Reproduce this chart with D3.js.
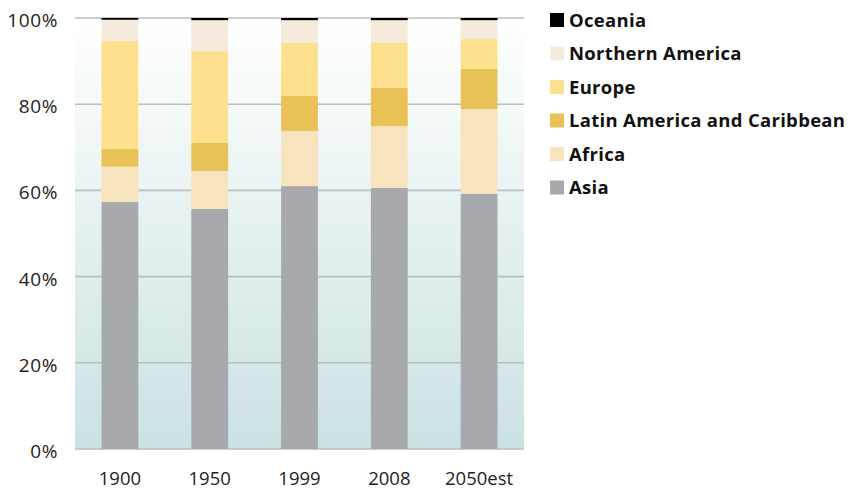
<!DOCTYPE html>
<html>
<head>
<meta charset="utf-8">
<script src="https://cdn.jsdelivr.net/npm/d3@7/dist/d3.min.js"></script>
<style>
html,body{margin:0;padding:0;background:#fff;}
svg{display:block;}
</style>
</head>
<body>
<svg id="chart" width="854" height="489"></svg>
<script>
const categories = ["1900", "1950", "1999", "2008", "2050est"];
const regions = ["Asia", "Africa", "Latin America and Caribbean", "Europe", "Northern America", "Oceania"];
const asia     = [57.3, 55.7, 61.0, 60.6, 59.2];
const africa   = [8.2, 8.8, 12.8, 14.3, 19.7];
const latin    = [4.1, 6.5, 8.1, 8.9, 9.3];
const europe   = [25.1, 21.3, 12.3, 10.4, 6.9];
const northAm  = [4.9, 7.2, 5.3, 5.3, 4.4];
const oceania  = [0.4, 0.5, 0.5, 0.5, 0.5];
const yTicks = [0, 20, 40, 60, 80, 100];
const legendOrder = ["Oceania", "Northern America", "Europe", "Latin America and Caribbean", "Africa", "Asia"];

(function () {
const seriesValues = {
  "Asia": asia, "Africa": africa, "Latin America and Caribbean": latin,
  "Europe": europe, "Northern America": northAm, "Oceania": oceania
};
const colors = {
  "Asia": "#a8a9ac", "Africa": "#f7e4bf", "Latin America and Caribbean": "#e8c257",
  "Europe": "#fde08e", "Northern America": "#f5ebdb", "Oceania": "#000000"
};

const table = categories.map((c, i) => {
  const row = {cat: c};
  regions.forEach(r => row[r] = seriesValues[r][i]);
  return row;
});

const svg = d3.select("#chart");
const pLeft = 75, pRight = 524, pTop = 18, pBottom = 449;

const x = d3.scaleBand().domain(categories).range([pLeft, pRight]).paddingInner(0.59).paddingOuter(0.295);
const y = d3.scaleLinear().domain([0, 100]).range([pBottom, pTop]);

const defs = svg.append("defs");
const grad = defs.append("linearGradient").attr("id", "bg").attr("x1", 0).attr("x2", 0).attr("y1", 0).attr("y2", 1);
grad.append("stop").attr("offset", "0%").attr("stop-color", "#ffffff");
grad.append("stop").attr("offset", "100%").attr("stop-color", "#cbe1e2");

svg.append("rect").attr("x", pLeft).attr("y", pTop).attr("width", pRight - pLeft).attr("height", pBottom - pTop)
  .attr("fill", "url(#bg)");

// gridlines
svg.append("g").selectAll("line").data(yTicks).join("line")
  .attr("x1", pLeft).attr("x2", pRight)
  .attr("y1", d => y(d)).attr("y2", d => y(d))
  .attr("stroke", "#bcbdbf").attr("stroke-width", 1.6);

// y labels
svg.append("g").selectAll("text").data(yTicks).join("text")
  .attr("x", 58).attr("y", d => y(d) + 9)
  .attr("text-anchor", "end")
  .attr("font-family", "Open Sans, sans-serif").attr("font-size", 19).attr("letter-spacing", 0.6).attr("fill", "#222")
  .text(d => d + "%");

// stacked bars
const stack = d3.stack().keys(regions)(table);
svg.append("g").selectAll("g").data(stack).join("g")
  .attr("fill", d => colors[d.key])
  .selectAll("rect").data(d => d).join("rect")
  .attr("x", d => x(d.data.cat))
  .attr("width", x.bandwidth())
  .attr("y", d => y(d[1]))
  .attr("height", d => y(d[0]) - y(d[1]));

// x axis labels
const xAxis = d3.axisBottom(x).tickSize(0).tickPadding(0);
const gx = svg.append("g").attr("transform", `translate(0,${pBottom})`).call(xAxis);
gx.select(".domain").remove();
gx.selectAll("text").attr("font-family", "Open Sans, sans-serif").attr("font-size", 18.5).attr("fill", "#222")
  .attr("dy", null).attr("y", 36);

// legend
const lg = svg.append("g").selectAll("g").data(legendOrder).join("g")
  .attr("transform", (d, i) => `translate(550, ${20 + i * 33.5})`);
lg.append("rect").attr("x", 0).attr("y", -7).attr("width", 14).attr("height", 14).attr("fill", d => colors[d]);
lg.append("text").attr("x", 19).attr("y", 6.5)
  .attr("font-family", "Open Sans, sans-serif").attr("font-weight", 700).attr("font-size", 18.5).attr("letter-spacing", 0.3).attr("fill", "#111")
  .text(d => d);
})();
</script>
</body>
</html>
